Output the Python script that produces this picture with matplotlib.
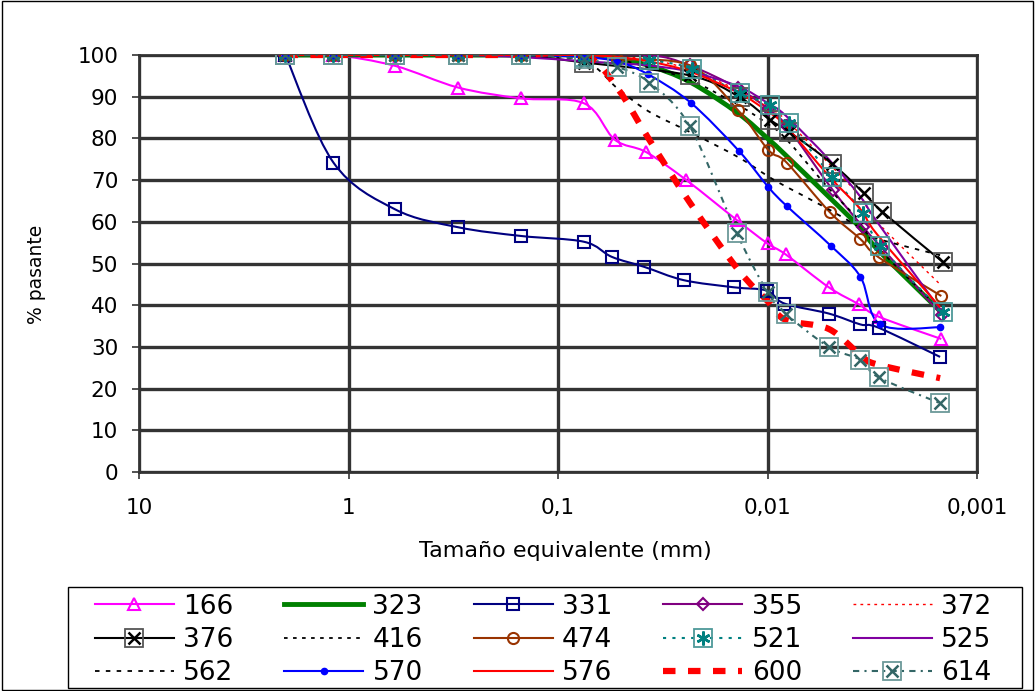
import numpy as np
import matplotlib
matplotlib.use("Agg")
import matplotlib.pyplot as plt
from matplotlib.lines import Line2D
from matplotlib.patches import Rectangle, PathPatch
from matplotlib.path import Path

# sieve sizes (mm) and hydrometer diameters, per sample
sieve = [2, 1.18, 0.6, 0.3, 0.15, 0.075]
hyd = [0.052, 0.037, 0.0234, 0.0138, 0.0100, 0.0082, 0.0051, 0.0036, 0.0030, 0.0015]

d_166 = sieve + [0.0536, 0.0379, 0.0244, 0.0140, 0.0100, 0.0082, 0.0051, 0.00366, 0.00293, 0.00148]
p_166 = [100, 100, 97.4, 92.2, 89.6, 88.4, 79.7, 76.7, 70.0, 60.4, 54.8, 52.2, 44.3, 40.2, 37.2, 31.9]
d_323 = sieve + hyd
p_323 = [100, 100, 100, 100, 100, 100, 99, 97.5, 93.5, 86, 80, 76, 66, 58.5, 53.5, 38.6]
d_331 = sieve + [0.0554, 0.0388, 0.0251, 0.0145, 0.0101, 0.0083, 0.0051, 0.00361, 0.00295, 0.0015]
p_331 = [100, 74.2, 63.0, 58.7, 56.6, 55.2, 51.6, 49.2, 46.0, 44.3, 43.5, 40.4, 38.0, 35.4, 34.6, 27.6]
d_355 = sieve + [0.0364, 0.0235, 0.0138, 0.0099, 0.0081, 0.00488, 0.00349, 0.00283, 0.00147]
p_355 = [100, 100, 100, 100, 100, 100, 100, 97.5, 92, 87, 83, 67.6, 58.7, 53.6, 37.6]
d_372 = sieve + hyd
p_372 = [100, 100, 100, 100, 100, 100, 99.5, 99, 96.5, 91.5, 87.5, 84.5, 74, 66, 60, 45]
d_376 = sieve + [0.0235, 0.0136, 0.0097, 0.0079, 0.0049, 0.00346, 0.00283, 0.00146]
p_376 = [100, 100, 100, 100, 100, 98.2, 95.1, 89.9, 84.4, 81.6, 73.9, 66.8, 62.4, 50.4]
d_416 = sieve + hyd
p_416 = [100, 100, 100, 100, 100, 100, 99, 97, 94, 88, 83.5, 80, 68, 60, 54, 39]
d_474 = sieve + [0.052, 0.0235, 0.0138, 0.0099, 0.0081, 0.00504, 0.00361, 0.00295, 0.00148]
p_474 = [100, 100, 100, 100, 100, 100, 99, 97.5, 86.7, 77.2, 74.2, 62.3, 55.9, 51.5, 42.2]
d_521 = sieve + [0.0366, 0.0229, 0.0136, 0.0097, 0.0079, 0.0049, 0.0035, 0.0029, 0.00146]
p_521 = [100, 100, 100, 100, 100, 99.5, 98.7, 96.7, 90.8, 88.0, 83.6, 70.7, 62.2, 54.2, 38.4]
d_525 = sieve + hyd
p_525 = [100, 100, 100, 100, 99.5, 98.5, 98, 97.5, 96, 92.5, 88.5, 85.5, 75, 66, 60, 39]
d_562 = sieve + hyd
p_562 = [100, 100, 100, 100, 100, 98.5, 92, 86.5, 81.5, 75.5, 71, 68.5, 63, 58.5, 56, 52]
d_570 = sieve + [0.052, 0.0373, 0.0233, 0.0137, 0.0099, 0.0081, 0.0050, 0.0036, 0.0029, 0.0015]
p_570 = [100, 100, 100, 100, 100, 99.5, 98.4, 95.4, 88.6, 77.0, 68.3, 63.8, 54.3, 46.8, 35.4, 34.7]
d_576 = sieve + hyd
p_576 = [100, 100, 100, 100, 100, 100, 99.5, 98.5, 96, 91, 86.5, 83, 71, 63, 57, 39.5]
d_600 = sieve + hyd
p_600 = [100, 100, 100, 100, 100, 100, 92, 80, 64.5, 48.5, 41, 36.5, 34.3, 28, 25.8, 22.5]
d_614 = sieve + [0.052, 0.0367, 0.0235, 0.0140, 0.0100, 0.0082, 0.0051, 0.00361, 0.00295, 0.0015]
p_614 = [100, 100, 100, 100, 100, 99, 97.1, 93.4, 82.9, 57.2, 43.2, 38.0, 30.0, 26.9, 22.7, 16.5]

names = ["166", "323", "331", "355", "372", "376", "416", "474",
         "521", "525", "562", "570", "576", "600", "614"]
xt = [10, 1, 0.1, 0.01, 0.001]
xt_lab = ["10", "1", "0,1", "0,01", "0,001"]
yt = list(range(0, 101, 10))

data = {"166": (d_166, p_166), "323": (d_323, p_323), "331": (d_331, p_331),
        "355": (d_355, p_355), "372": (d_372, p_372), "376": (d_376, p_376),
        "416": (d_416, p_416), "474": (d_474, p_474), "521": (d_521, p_521),
        "525": (d_525, p_525), "562": (d_562, p_562), "570": (d_570, p_570),
        "576": (d_576, p_576), "600": (d_600, p_600), "614": (d_614, p_614)}

# line style + list of marker layers (drawn on top of each other)
line_sty = {
    "166": dict(color="#FF00FF", lw=1.5),
    "323": dict(color="#008000", lw=3.5),
    "331": dict(color="#000080", lw=1.5),
    "355": dict(color="#800080", lw=1.5),
    "372": dict(color="#FF0000", lw=1.0, ls=(0, (2, 3))),
    "376": dict(color="#000000", lw=1.5),
    "416": dict(color="#000000", lw=1.3, ls=(0, (2, 3))),
    "474": dict(color="#993300", lw=1.5),
    "521": dict(color="#008080", lw=1.5, ls=(0, (1.5, 3))),
    "525": dict(color="#8000A0", lw=1.5),
    "562": dict(color="#000000", lw=1.3, ls=(0, (2.5, 3.5))),
    "570": dict(color="#0000FF", lw=1.5),
    "576": dict(color="#FF0000", lw=1.5),
    "600": dict(color="#FF0000", lw=4.5, ls=(0, (2, 2))),
    "614": dict(color="#336666", lw=1.5, ls=(0, (3, 2.5, 1, 2.5))),
}
mk_sty = {
    "166": [dict(marker="^", ms=9, mfc="none", mec="#FF00FF", mew=1.5)],
    "331": [dict(marker="s", ms=8, mfc="none", mec="#000080", mew=1.5)],
    "355": [dict(marker="D", ms=6, mfc="none", mec="#800080", mew=1.5)],
    "376": [dict(marker="s", ms=12.5, mfc="none", mec="#555555", mew=1.3),
            dict(marker="x", ms=9, mec="#000000", mew=1.8)],
    "474": [dict(marker="o", ms=8, mfc="none", mec="#993300", mew=1.5)],
    "521": [dict(marker="s", ms=12.5, mfc="none", mec="#4D9999", mew=1.3),
            dict(marker=(6, 2, 0), ms=10, mec="#008080", mew=1.8)],
    "570": [dict(marker="o", ms=4.5, mfc="#0000FF", mec="#0000FF", mew=1)],
    "614": [dict(marker="s", ms=12.5, mfc="none", mec="#6B9999", mew=1.3),
            dict(marker="x", ms=9, mec="#336666", mew=1.8)],
}


def smooth_path(x, y):
    # Excel-style smoothed line: cubic Bezier through the points (log x)
    P = np.column_stack([np.log10(x), np.asarray(y, float)])
    n = len(P)
    verts, codes = [P[0]], [Path.MOVETO]
    for i in range(n - 1):
        p0 = P[i - 1] if i > 0 else P[i]
        p3 = P[i + 2] if i + 2 < n else P[i + 1]
        verts += [P[i] + (P[i + 1] - p0) / 6, P[i + 1] - (p3 - P[i]) / 6, P[i + 1]]
        codes += [Path.CURVE4] * 3
    verts = np.array(verts)
    verts[:, 0] = 10 ** verts[:, 0]
    return Path(verts, codes)


fig = plt.figure(figsize=(10.35, 6.91), dpi=100)
ax = fig.add_axes([139 / 1035, 1 - 472 / 691, 838 / 1035, 417 / 691])
ax.set_xscale("log")

handles = {}
for n in names:
    d, p = data[n]
    s = line_sty[n]
    ax.add_patch(PathPatch(smooth_path(d, p), fill=False, edgecolor=s["color"], lw=s["lw"],
                           linestyle=s.get("ls", "-"), zorder=3))
    hs = [Line2D([], [], **s)]
    for m in mk_sty.get(n, []):
        ax.plot(d, p, ls="none", **m, zorder=4)
        hs.append(Line2D([], [], ls="none", **m))
    handles[n] = tuple(hs) if len(hs) > 1 else hs[0]

ax.set_xlim(10, 0.001)
ax.set_ylim(0, 100)
ax.set_xticks(xt, labels=xt_lab)
ax.xaxis.set_minor_locator(matplotlib.ticker.NullLocator())
ax.set_yticks(yt)
ax.grid(True, which="major", color="#333333", lw=2.4, zorder=1)
ax.set_axisbelow(True)
for sp in ax.spines.values():
    sp.set_color("#333333")
    sp.set_linewidth(2)
ax.tick_params(axis="both", labelsize=15.5, length=5, width=1.2, color="#333333")
ax.tick_params(axis="y", pad=10)
ax.tick_params(axis="x", pad=14)

fig.text(565 / 1035, 1 - 551 / 691, "Tamaño equivalente (mm)", ha="center", va="center", fontsize=16)
fig.text(37 / 1035, 1 - 274 / 691, "% pasante", ha="center", va="center", rotation=90, fontsize=13.5)

# legend reads row by row in the reference; matplotlib fills column by column
nrow, ncol = 3, 5
order = [names[r * ncol + c] for c in range(ncol) for r in range(nrow)]
leg = fig.legend([handles[n] for n in order], order, loc="center",
                 bbox_to_anchor=(543 / 1035, 1 - 640 / 691),
                 ncol=ncol, fontsize=19, handlelength=3.0, handletextpad=0.35,
                 columnspacing=1.93, borderaxespad=0, labelspacing=0.28,
                 frameon=False, borderpad=0)
# legend box
fig.patches.append(Rectangle((68 / 1035, 1 - 688 / 691), 954 / 1035, 101 / 691,
                             transform=fig.transFigure, fill=False, ec="black", lw=1))
# chart border
fig.patches.append(Rectangle((0.002, 0.002), 0.996, 0.996, transform=fig.transFigure,
                             fill=False, ec="black", lw=1))
fig.savefig("out.png", dpi=100)
